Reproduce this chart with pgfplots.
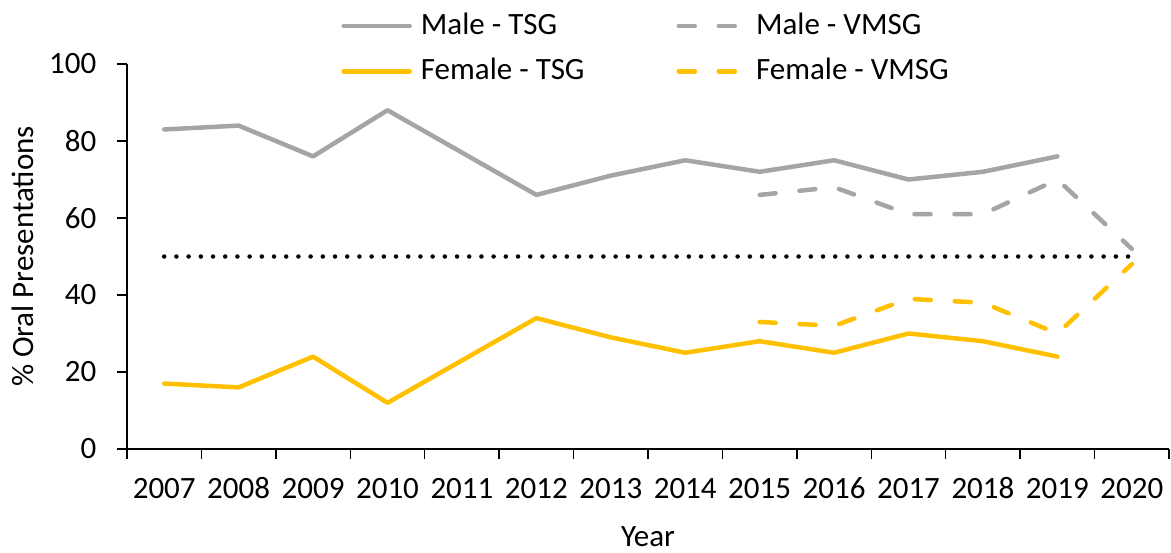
\documentclass[border=0pt]{standalone}
\usepackage{fontspec}
\setmainfont{Carlito}[Numbers=Lining]
\usepackage{pgfplots}
\pgfplotsset{compat=1.18}
\definecolor{mgrey}{HTML}{A5A5A5}
\definecolor{fyel}{HTML}{FFC000}
\begin{document}
\fontsize{15.5}{18}\selectfont
\begin{tikzpicture}
\path[use as bounding box] (-63.5pt,-51.5pt) rectangle (522pt,224.5pt);
\begin{axis}[
  at={(0,0)}, anchor=south west,
  scale only axis, width=521pt, height=192.5pt,
  xmin=-0.5, xmax=13.5, ymin=0, ymax=100,
  axis x line*=bottom, axis y line*=left,
  axis line style={black, line width=0.75pt},
  xtick={0,1,2,3,4,5,6,7,8,9,10,11,12,13},
  xticklabels={2007,2008,2009,2010,2011,2012,2013,2014,2015,2016,2017,2018,2019,2020},
  major x tick style={draw=none},
  minor xtick={-0.5,0.5,1.5,2.5,3.5,4.5,5.5,6.5,7.5,8.5,9.5,10.5,11.5,12.5,13.5},
  ytick={0,20,40,60,80,100},
  tick align=outside,
  major tick length=5pt, minor tick length=5pt,
  tick style={black, line width=0.75pt},
  /pgf/number format/assume math mode=true,
  tick label style={font=\fontsize{15.5}{18}\selectfont},
  xticklabel style={anchor=north, text height=10pt, text depth=0pt, yshift=-4.5pt},
  yticklabel style={xshift=-5pt},
  xlabel={Year}, ylabel={\% Oral Presentations},
  every axis x label/.style={at={(axis description cs:0.5,-0.2286)}, anchor=center, font=\fontsize{15.5}{18}\selectfont},
  every axis y label/.style={at={(axis description cs:-0.0998,0.5)}, anchor=center, rotate=90, font=\fontsize{15.5}{18}\selectfont},
  legend columns=2, legend cell align=left,
  legend style={draw=none, fill=none, at={(rel axis cs:0.2054,1.1335)}, anchor=north west,
    inner sep=0pt, row sep=9.5pt, column sep=4.5pt,
    /tikz/every even column/.append style={column sep=46pt},
    nodes={inner sep=0pt, font=\fontsize{15.5}{18}\selectfont}},
  legend image code/.code={\draw[#1] (0pt,0pt) -- (33pt,0pt);},
  every axis plot/.append style={line width=2.25pt, line join=round, line cap=round},
]
\addplot[black, dash pattern=on 0pt off 6.1pt, forget plot] coordinates {(0,50) (13,50)};
\addplot[mgrey] coordinates {(0,83) (1,84) (2,76) (3,88) (5,66) (6,71) (7,75) (8,72) (9,75) (10,70) (11,72) (12,76)};
\addlegendentry{Male - TSG}
\addplot[mgrey, dash pattern=on 8pt off 12pt] coordinates {(8,66) (9,68) (10,61) (11,61) (12,70) (13,52)};
\addlegendentry{Male - VMSG}
\addplot[fyel] coordinates {(0,17) (1,16) (2,24) (3,12) (5,34) (6,29) (7,25) (8,28) (9,25) (10,30) (11,28) (12,24)};
\addlegendentry{Female - TSG}
\addplot[fyel, dash pattern=on 8pt off 12pt] coordinates {(8,33) (9,32) (10,39) (11,38) (12,30) (13,48)};
\addlegendentry{Female - VMSG}
\end{axis}
\end{tikzpicture}
\end{document}
